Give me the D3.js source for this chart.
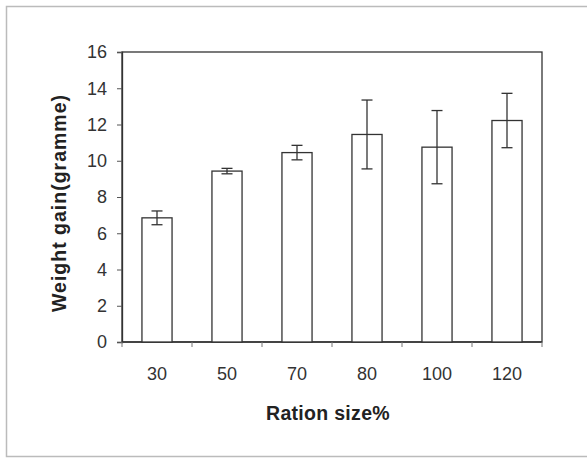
<!DOCTYPE html>
<html><head><meta charset="utf-8">
<script src="https://cdn.jsdelivr.net/npm/d3@7"></script>
<style>body{margin:0;background:#fff}svg{display:block}</style>
</head><body>
<script>
const categories = ["30","50","70","80","100","120"];
const means = [6.85, 9.43, 10.45, 11.45, 10.75, 12.22];
const errors = [0.38, 0.15, 0.40, 1.90, 2.02, 1.50];
const yTicks = [0,2,4,6,8,10,12,14,16];

const W = 587, H = 458;
const svg = d3.select("body").append("svg").attr("width", W).attr("height", H);
svg.append("rect").attr("width", W).attr("height", H).attr("fill", "#fff");

// outer frame (partial: top, left, bottom)
svg.append("path").attr("d", `M587,6.5 H6.5 V456.5 H587`).attr("fill","none").attr("stroke","#bbb").attr("stroke-width",1.5);

const L = 122, R = 542, T = 52, B = 342;
const x = d3.scaleBand().domain(categories).range([L, R]).paddingInner(0.57).paddingOuter(0.285);
const y = d3.scaleLinear().domain([0, 16]).range([B, T]);
const font = "Arial, 'Liberation Sans', sans-serif";

// plot border
svg.append("rect").attr("x", L).attr("y", T).attr("width", R - L).attr("height", B - T)
  .attr("fill","none").attr("stroke","#333").attr("stroke-width",1.3);

// y axis
const yAxis = d3.axisLeft(y).tickValues(yTicks).tickSize(5).tickPadding(10);
const gy = svg.append("g").attr("transform", `translate(${L},0)`).call(yAxis);
gy.select(".domain").attr("stroke","#333").attr("stroke-width",1.3);
gy.selectAll(".tick line").attr("stroke","#555");
gy.selectAll("text").attr("font-family", font).attr("font-size", 18).attr("fill","#333");

// x axis with ticks between categories
const gx = svg.append("g").attr("transform", `translate(0,${B})`);
gx.append("line").attr("x1", L).attr("x2", R).attr("stroke","#333").attr("stroke-width",1.3);
const step = x.step();
const bounds = d3.range(categories.length + 1).map(i => L + i * step);
gx.selectAll("line.tk").data(bounds).join("line").attr("class","tk")
  .attr("x1", d => d).attr("x2", d => d).attr("y1", 0).attr("y2", 5).attr("stroke","#777");
gx.selectAll("text").data(categories).join("text")
  .attr("x", d => x(d) + x.bandwidth() / 2).attr("y", 38)
  .attr("text-anchor","middle").attr("font-family", font).attr("font-size", 18).attr("fill","#333")
  .text(d => d);

// bars
const data = categories.map((c, i) => ({c, m: means[i], e: errors[i]}));
svg.append("g").selectAll("rect").data(data).join("rect")
  .attr("x", d => x(d.c)).attr("width", x.bandwidth())
  .attr("y", d => y(d.m)).attr("height", d => y(0) - y(d.m))
  .attr("fill","#fff").attr("stroke","#333").attr("stroke-width",1.3);

// error bars
const eg = svg.append("g").attr("stroke","#333").attr("stroke-width",1.3);
data.forEach(d => {
  const cx = x(d.c) + x.bandwidth() / 2;
  eg.append("line").attr("x1", cx).attr("x2", cx).attr("y1", y(d.m + d.e)).attr("y2", y(d.m - d.e));
  eg.append("line").attr("x1", cx - 5.5).attr("x2", cx + 5.5).attr("y1", y(d.m + d.e)).attr("y2", y(d.m + d.e));
  eg.append("line").attr("x1", cx - 5.5).attr("x2", cx + 5.5).attr("y1", y(d.m - d.e)).attr("y2", y(d.m - d.e));
});

// axis titles
svg.append("text").attr("x", 328).attr("y", 420).attr("text-anchor","middle")
  .attr("font-family", font).attr("font-size", 19.5).attr("font-weight","bold").attr("fill","#222")
  .attr("letter-spacing", 0.3)
  .text("Ration size%");
svg.append("text").attr("transform", `translate(66,203) rotate(-90)`).attr("text-anchor","middle")
  .attr("font-family", font).attr("font-size", 19.5).attr("font-weight","bold").attr("fill","#222")
  .attr("letter-spacing", 1)
  .text("Weight gain(gramme)");
</script>
</body></html>
